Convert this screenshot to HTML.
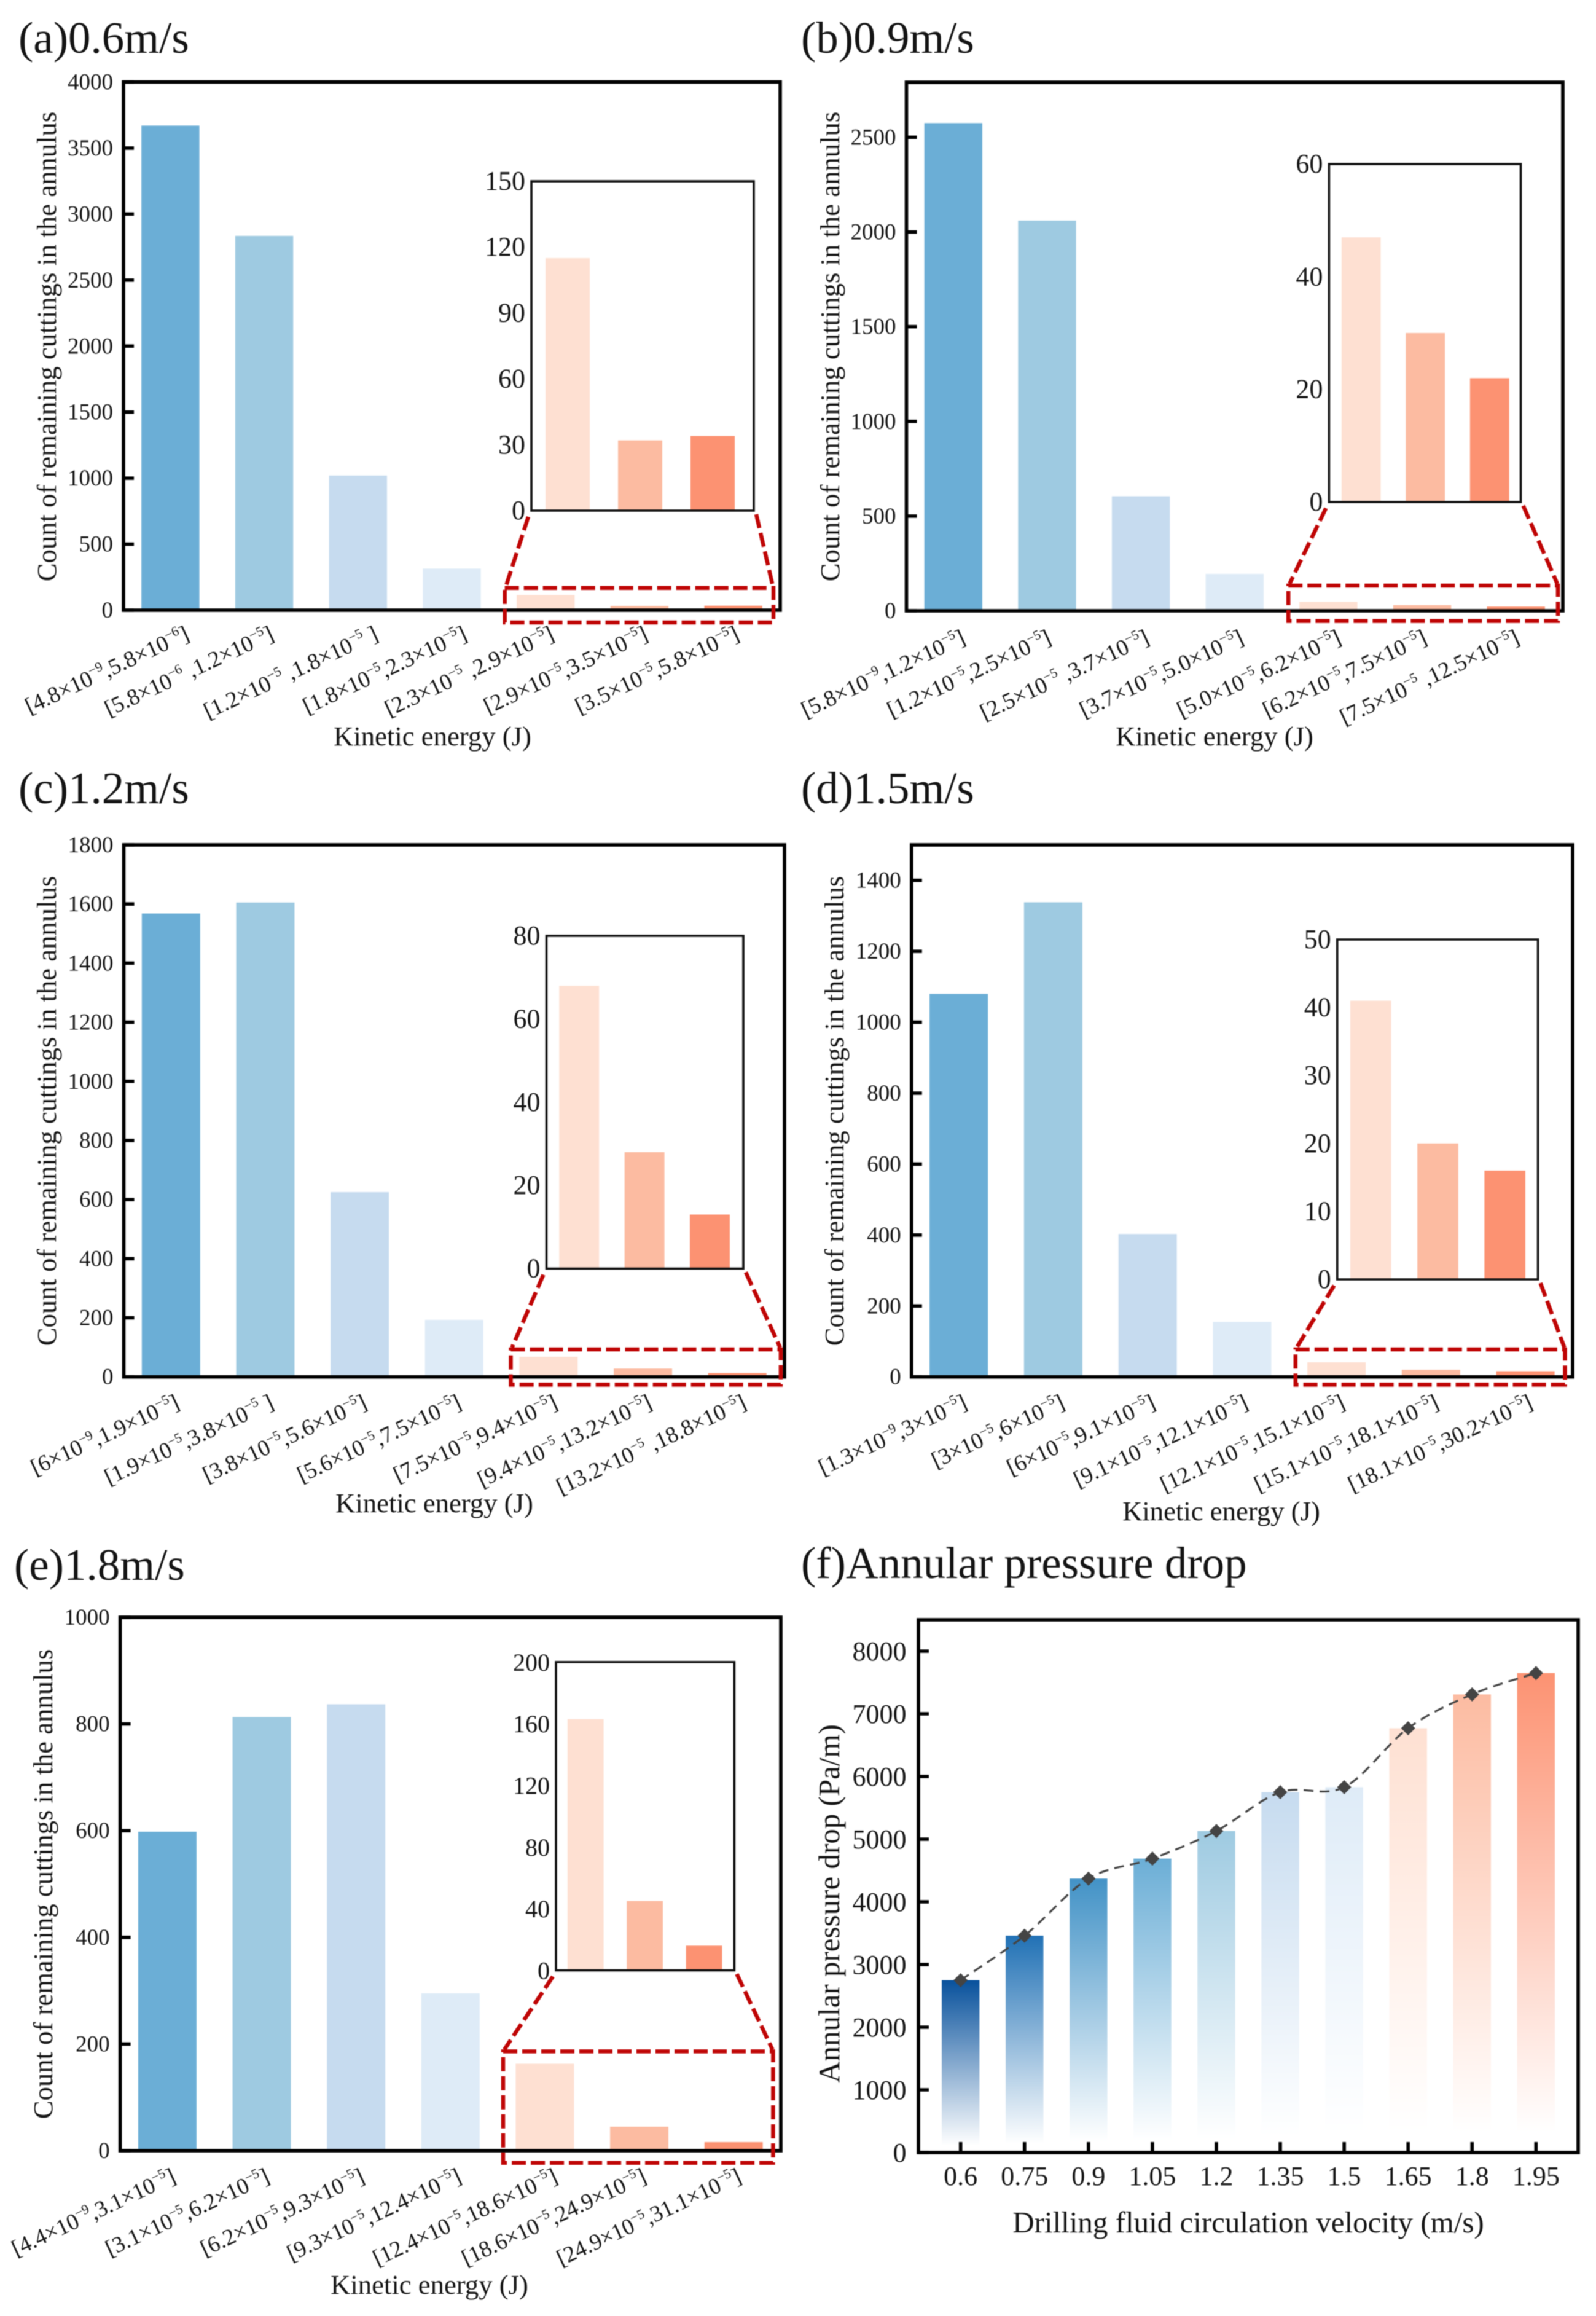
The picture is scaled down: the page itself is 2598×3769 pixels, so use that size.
<!DOCTYPE html>
<html lang="en">
<head>
<meta charset="utf-8">
<title>Remaining cuttings and annular pressure drop</title>
<style>
html,body{margin:0;padding:0;background:#fff;width:2598px;height:3769px;overflow:hidden}
svg{display:block;filter:blur(.9px)}
text{font-family:"Liberation Serif","Times New Roman",serif;fill:#141414;white-space:pre}
</style>
</head>
<body>
<svg id="figure" xmlns="http://www.w3.org/2000/svg" width="2598" height="3769" viewBox="0 0 2598 3769">
<defs id="gradients"></defs>
<rect x="0" y="0" width="2598" height="3769" fill="#ffffff"></rect>
</svg>
<script>
// ---- chart data ----
const valuesA = [3670, 2835, 1020, 315, 115, 32, 34];
const valuesB = [2575, 2060, 605, 195, 47, 30, 22];
const valuesC = [1568, 1605, 625, 193, 68, 28, 13];
const valuesD = [1080, 1338, 403, 155, 41, 20, 16];
const valuesE = [598, 813, 837, 295, 163, 45, 16];
const ticksA = [0, 500, 1000, 1500, 2000, 2500, 3000, 3500, 4000];
const ticksB = [0, 500, 1000, 1500, 2000, 2500];
const ticksC = [0, 200, 400, 600, 800, 1000, 1200, 1400, 1600, 1800];
const ticksD = [0, 200, 400, 600, 800, 1000, 1200, 1400];
const ticksE = [0, 200, 400, 600, 800, 1000];
const insetTicksA = [0, 30, 60, 90, 120, 150];
const insetTicksB = [0, 20, 40, 60];
const insetTicksC = [0, 20, 40, 60, 80];
const insetTicksD = [0, 10, 20, 30, 40, 50];
const insetTicksE = [0, 40, 80, 120, 160, 200];
const labelsA = ["[4.8×10^−9,5.8×10^−6]", "[5.8×10^−6 ,1.2×10^−5]", "[1.2×10^−5 ,1.8×10^−5 ]", "[1.8×10^−5,2.3×10^−5]", "[2.3×10^−5 ,2.9×10^−5]", "[2.9×10^−5,3.5×10^−5]", "[3.5×10^−5,5.8×10^−5]"];
const labelsB = ["[5.8×10^−9,1.2×10^−5]", "[1.2×10^−5,2.5×10^−5]", "[2.5×10^−5 ,3.7×10^−5]", "[3.7×10^−5,5.0×10^−5]", "[5.0×10^−5,6.2×10^−5]", "[6.2×10^−5,7.5×10^−5]", "[7.5×10^−5 ,12.5×10^−5]"];
const labelsC = ["[6×10^−9,1.9×10^−5]", "[1.9×10^−5,3.8×10^−5 ]", "[3.8×10^−5,5.6×10^−5]", "[5.6×10^−5,7.5×10^−5]", "[7.5×10^−5,9.4×10^−5]", "[9.4×10^−5,13.2×10^−5]", "[13.2×10^−5 ,18.8×10^−5]"];
const labelsD = ["[1.3×10^−9,3×10^−5]", "[3×10^−5,6×10^−5]", "[6×10^−5,9.1×10^−5]", "[9.1×10^−5,12.1×10^−5]", "[12.1×10^−5,15.1×10^−5]", "[15.1×10^−5,18.1×10^−5]", "[18.1×10^−5,30.2×10^−5]"];
const labelsE = ["[4.4×10^−9,3.1×10^−5]", "[3.1×10^−5,6.2×10^−5]", "[6.2×10^−5,9.3×10^−5]", "[9.3×10^−5,12.4×10^−5]", "[12.4×10^−5,18.6×10^−5]", "[18.6×10^−5,24.9×10^−5]", "[24.9×10^−5,31.1×10^−5]"];
const velocityLabels = ["0.6", "0.75", "0.9", "1.05", "1.2", "1.35", "1.5", "1.65", "1.8", "1.95"];
const pressureValues = [2750, 3460, 4370, 4690, 5130, 5750, 5830, 6770, 7310, 7650];
const pressureTicks = [0, 1000, 2000, 3000, 4000, 5000, 6000, 7000, 8000];

// ---- styles ----
const binColors = ["#6baed6", "#9ecae1", "#c6dbef", "#deebf7", "#fee0d2", "#fcbba1", "#fc9272"];
const pressureColors = ["#08519c", "#2171b5", "#4292c6", "#6baed6", "#9ecae1", "#c6dbef", "#deebf7", "#fee0d2", "#fcbba1", "#fc9272"];
const RED = "#bf0505";

const svg = document.getElementById("figure");
const NS = "http://www.w3.org/2000/svg";
function mk(tag, parent, attrs, text) {
  const n = document.createElementNS(NS, tag);
  for (const k in attrs) n.setAttribute(k, attrs[k]);
  if (text !== undefined) n.textContent = text;
  parent.appendChild(n);
  return n;
}
function linear(d0, d1, r0, r1) {
  return v => r0 + (v - d0) / (d1 - d0) * (r1 - r0);
}

// Rich label: "^x" marks a superscript run.
function writeLabel(node, str, size) {
  const parts = str.split(/\^([−0-9]+)/);
  const rise = size * 0.4;
  let pending = 0;
  parts.forEach((p, i) => {
    if (p === "") return;
    const isSup = i % 2 === 1;
    const t = mk("tspan", node, {"font-size": isSup ? size * 0.6 : size}, p);
    const dy = isSup ? -rise : pending;
    if (dy) t.setAttribute("dy", dy);
    pending = isSup ? rise : 0;
  });
}

function drawPanel(p) {
  const g = mk("g", svg, {});
  
  

  const title = mk("text", g, {x: p.titleX, y: p.titleY, "font-size": 73}, p.title);
  
  

  const f = p.frame;
  const y = linear(0, p.max, f.b, f.t);
  const band = (f.r - f.l) / p.values.length;
  const x = i => f.l + band * (i + 0.5);
  const barW = band * 0.618;

  p.values.forEach((v, i) => {
    const bar = mk("rect", g, {x: x(i) - barW / 2, y: y(v), width: barW, height: y(0) - y(v), fill: binColors[i]});
    
    
  });

  const fr = mk("rect", g, {x: f.l, y: f.t, width: f.r - f.l, height: f.b - f.t, fill: "none", stroke: "#000", "stroke-width": 5.6});
  
  

  p.ticks.forEach(t => {
    const tick = mk("line", g, {x1: f.l, x2: f.l + 17, y1: y(t), y2: y(t), stroke: "#000", "stroke-width": 5.6});
    
    
    const lab = mk("text", g, {x: f.l - 17, y: y(t) + 12, "font-size": 37, "text-anchor": "end"}, String(t));
    
    
  });

  p.labels.forEach((s, i) => {
    const ax = x(i) + p.labelNudge[i];
    const ay = f.b + p.labelDrop;
    const lab = mk("text", g, {x: ax, y: ay, "text-anchor": "end", transform: "rotate(-25 " + ax + " " + ay + ")"});
    writeLabel(lab, s, 37);
    
    
  });

  const yt = mk("text", g, {x: 0, y: 0, "font-size": 44.7, "text-anchor": "middle", transform: "translate(" + p.yTitleX + " " + p.yTitleY + ") rotate(-90)"}, "Count of remaining cuttings in the annulus");
  
  

  const xt = mk("text", g, {x: p.xTitleX, y: p.xTitleY, "font-size": 44.7, "text-anchor": "middle"}, "Kinetic energy (J)");
  
  

  // inset: last three bins re-plotted at their own scale
  const n = p.inset;
  const ig = mk("g", g, {});
  
  
  const iy = linear(0, n.max, n.b, n.t);
  const iStep = (n.r - n.l) * n.band;
  const ix = i => n.l + iStep * (i + 0.5);
  const inW = iStep * 0.61;
  p.values.slice(-3).forEach((v, i) => {
    const bar = mk("rect", ig, {x: ix(i) - inW / 2, y: iy(v), width: inW, height: iy(0) - iy(v), fill: binColors[i + 4]});
    
    
  });
  const ifr = mk("rect", ig, {x: n.l, y: n.t, width: n.r - n.l, height: n.b - n.t, fill: "none", stroke: "#111", "stroke-width": 3.6});
  
  
  n.ticks.forEach(t => {
    const lab = mk("text", ig, {x: n.l - 10, y: iy(t) + 14, "font-size": n.font, "text-anchor": "end"}, String(t));
    
    
  });

  // zoom indicator
  const z = p.zoomBox;
  const dash = {fill: "none", stroke: RED, "stroke-width": 6.5, "stroke-dasharray": "23 8"};
  const box = mk("rect", g, Object.assign({x: z.l, y: z.t, width: z.r - z.l, height: z.b - z.t}, dash));
  
  
  const c1 = mk("line", g, Object.assign({x1: n.l - 5, y1: n.b + 10, x2: z.l + 2, y2: z.t - 3}, dash));
  
  
  const c2 = mk("line", g, Object.assign({x1: n.r + 4, y1: n.b + 6, x2: z.r - 1, y2: z.t - 3}, dash));
  
  
}

drawPanel({
  id: "a", title: "(a)0.6m/s", titleX: 30, titleY: 86,
  frame: {l: 201, r: 1270, t: 133.5, b: 993},
  values: valuesA, max: 4000, ticks: ticksA, labels: labelsA,
  labelNudge: [33, 18, 35, 27, 16, 16, 12], labelDrop: 47,
  yTitleX: 91, yTitleY: 564, xTitleX: 704, xTitleY: 1213,
  inset: {l: 865, r: 1227, t: 295, b: 831, max: 150, ticks: insetTicksA, font: 44, band: 0.326},
  zoomBox: {l: 821.7, r: 1259, t: 956.7, b: 1013}
});
drawPanel({
  id: "b", title: "(b)0.9m/s", titleX: 1304, titleY: 86,
  frame: {l: 1475.5, r: 2544, t: 134, b: 994},
  values: valuesB, max: 2790, ticks: ticksB, labels: labelsB,
  labelNudge: [22, 9, 16, 17, 23, 10, 8], labelDrop: 52,
  yTitleX: 1366, yTitleY: 564, xTitleX: 1977, xTitleY: 1213,
  inset: {l: 2163.4, r: 2475.5, t: 267, b: 817, max: 60, ticks: insetTicksB, font: 44, band: 0.335},
  zoomBox: {l: 2097.2, r: 2536, t: 953, b: 1010.6}
});
drawPanel({
  id: "c", title: "(c)1.2m/s", titleX: 30, titleY: 1307,
  frame: {l: 201.5, r: 1277, t: 1375, b: 2240.7},
  values: valuesC, max: 1800, ticks: ticksC, labels: labelsC,
  labelNudge: [16, 16, 14, 14, 17, 17, 17], labelDrop: 50,
  yTitleX: 91, yTitleY: 1808, xTitleX: 707, xTitleY: 2461,
  inset: {l: 889.5, r: 1210, t: 1523, b: 2064.5, max: 80, ticks: insetTicksC, font: 44, band: 0.332},
  zoomBox: {l: 831.5, r: 1270.9, t: 2196, b: 2253.4}
});
drawPanel({
  id: "d", title: "(d)1.5m/s", titleX: 1304, titleY: 1307,
  frame: {l: 1483.8, r: 2560, t: 1375, b: 2240.7},
  values: valuesD, max: 1500, ticks: ticksD, labels: labelsD,
  labelNudge: [16, 21, 15, 12, 16, 15, 14], labelDrop: 50,
  yTitleX: 1373, yTitleY: 1808, xTitleX: 1988, xTitleY: 2474,
  inset: {l: 2176.7, r: 2503.6, t: 1529, b: 2082, max: 50, ticks: insetTicksD, font: 44, band: 0.334},
  zoomBox: {l: 2108.8, r: 2547.5, t: 2196, b: 2253.4}
});
drawPanel({
  id: "e", title: "(e)1.8m/s", titleX: 23, titleY: 2571,
  frame: {l: 195.6, r: 1271, t: 2632, b: 3500},
  values: valuesE, max: 1000, ticks: ticksE, labels: labelsE,
  labelNudge: [16, 15, 16, 20, 23, 14, 15], labelDrop: 50,
  yTitleX: 85, yTitleY: 3066, xTitleX: 699, xTitleY: 3733,
  inset: {l: 905, r: 1195.4, t: 2704.8, b: 3206.5, max: 200, ticks: insetTicksE, font: 40, band: 0.332},
  zoomBox: {l: 819, r: 1258.4, t: 3338.4, b: 3519.7}
});

// ---- panel f: pressure drop ----
(function drawPressure() {
  const L = 1495, R = 2569, T = 2636, B = 3503, yMax = 8500;
  const g = mk("g", svg, {});
  
  
  const defs = document.getElementById("gradients");
  const title = mk("text", g, {x: 1304, y: 2568, "font-size": 73}, "(f)Annular pressure drop");
  
  

  const y = linear(0, yMax, B, T);
  const step = (R - L) / (pressureValues.length + 0.32);
  const x = i => L + step * (i + 0.66);
  const w = step * 0.59;

  pressureValues.forEach((v, i) => {
    const gr = mk("linearGradient", defs, {id: "pg" + i, x1: 0, y1: 0, x2: 0, y2: 1});
    mk("stop", gr, {offset: "0", "stop-color": pressureColors[i]});
    mk("stop", gr, {offset: "0.96", "stop-color": "#ffffff"});
    const bar = mk("rect", g, {x: x(i) - w / 2, y: y(v), width: w, height: y(0) - y(v), fill: "url(#pg" + i + ")"});
    
    
  });

  const fr = mk("rect", g, {x: L, y: T, width: R - L, height: B - T, fill: "none", stroke: "#000", "stroke-width": 5.6});
  
  

  pressureTicks.forEach(t => {
    const tick = mk("line", g, {x1: L, x2: L + 17, y1: y(t), y2: y(t), stroke: "#000", "stroke-width": 5.6});
    
    
    const lab = mk("text", g, {x: L - 19.5, y: y(t) + 15, "font-size": 44, "text-anchor": "end"}, String(t));
    
    
  });
  velocityLabels.forEach((s, i) => {
    const tick = mk("line", g, {x1: x(i), x2: x(i), y1: B, y2: B - 17, stroke: "#000", "stroke-width": 5.6});
    
    
    const lab = mk("text", g, {x: x(i), y: 3556, "font-size": 44, "text-anchor": "middle"}, s);
    
    
  });

  // smooth dashed trend through the points
  const pts = pressureValues.map((v, i) => [x(i), y(v)]);
  let d = "M" + pts[0][0] + " " + pts[0][1];
  for (let i = 0; i < pts.length - 1; i++) {
    const p0 = pts[Math.max(i - 1, 0)], p1 = pts[i], p2 = pts[i + 1], p3 = pts[Math.min(i + 2, pts.length - 1)];
    const c1x = p1[0] + (p2[0] - p0[0]) / 6, c1y = p1[1] + (p2[1] - p0[1]) / 6;
    const c2x = p2[0] - (p3[0] - p1[0]) / 6, c2y = p2[1] - (p3[1] - p1[1]) / 6;
    d += "C" + c1x + " " + c1y + " " + c2x + " " + c2y + " " + p2[0] + " " + p2[1];
  }
  const line = mk("path", g, {d: d, fill: "none", stroke: "#444", "stroke-width": 3.2, "stroke-dasharray": "16 10"});
  
  
  pts.forEach((q, i) => {
    const r = 11.5;
    const m = mk("polygon", g, {points: [[q[0], q[1] - r], [q[0] + r, q[1]], [q[0], q[1] + r], [q[0] - r, q[1]]].join(" "), fill: "#444"});
    
    
  });

  const yt = mk("text", g, {x: 0, y: 0, "font-size": 49, "text-anchor": "middle", transform: "translate(1366 3098) rotate(-90)"}, "Annular pressure drop (Pa/m)");
  
  
  const xt = mk("text", g, {x: 2032, y: 3633, "font-size": 49, "text-anchor": "middle"}, "Drilling fluid circulation velocity (m/s)");
  
  
})();
</script>
</body>
</html>
